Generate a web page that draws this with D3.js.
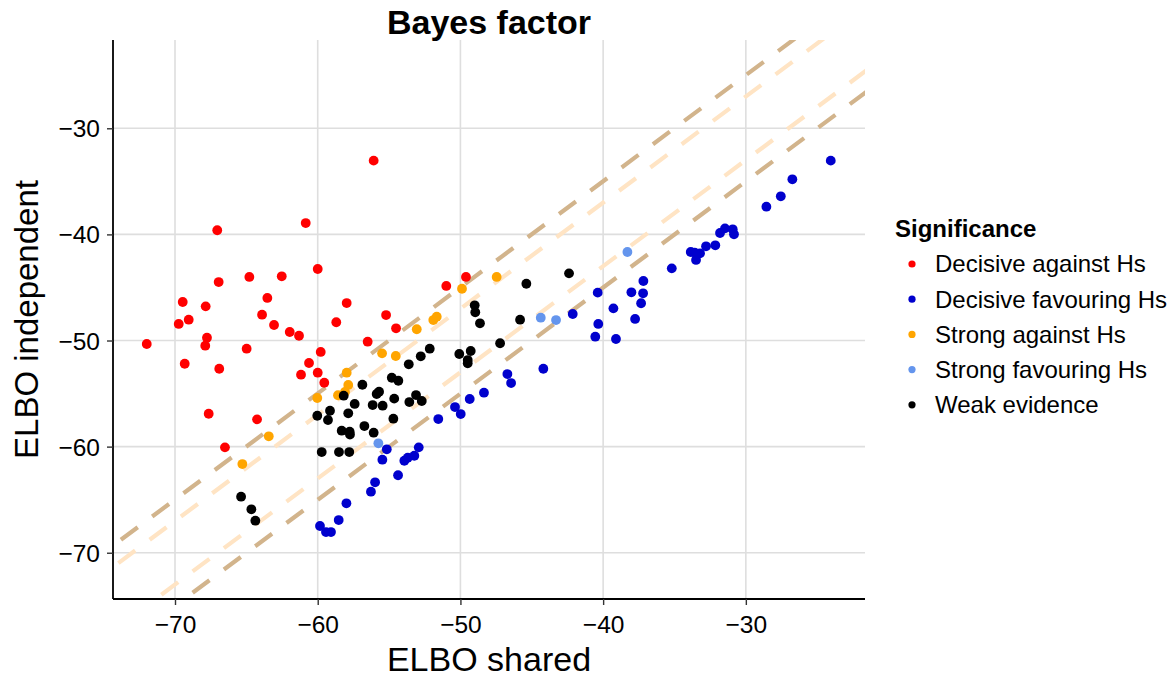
<!DOCTYPE html>
<html><head><meta charset="utf-8">
<script src="https://cdn.jsdelivr.net/npm/d3@7"></script>
<style>body{margin:0;background:#fff}svg{display:block;font-family:"Liberation Sans",Arial,sans-serif}</style>
</head><body><svg id="c" width="1174" height="677"></svg>
<script>
// ---- data (ELBO shared = x, ELBO independent = y) ----
const categories = ["Decisive against Hs","Decisive favouring Hs","Strong against Hs","Strong favouring Hs","Weak evidence"];
const colors = ["#FF0000","#0000CD","#FFA500","#6495ED","#000000"];
const xTicks = [-70,-60,-50,-40,-30];
const yTicks = [-70,-60,-50,-40,-30];
const bfThresholds = [Math.log(150), Math.log(20), -Math.log(20), -Math.log(150)];
const bfColors = ["#D2B48C","#FFE4C4","#FFE4C4","#D2B48C"];

const decisiveAgainstX = [-56.08,-67.04,-60.84,-60.00,-66.94,-64.79,-62.52,-63.53,-69.46,-67.85,-57.97,-69.74,-69.04,-63.90,-63.06,-58.70,-61.96,-61.31,-67.76,-71.98,-56.50,-67.88,-64.98,-69.32,-66.90,-59.79,-60.61,-61.17,-60.00,-59.54,-67.64,-64.25,-66.50,-55.21,-54.51,-50.99,-49.61];
const decisiveAgainstY = [-33.05,-39.61,-38.93,-43.26,-44.49,-44.01,-43.95,-45.99,-46.37,-46.78,-46.47,-48.44,-48.04,-47.57,-48.54,-48.28,-49.20,-49.55,-49.74,-50.33,-50.11,-50.49,-50.77,-52.19,-52.66,-51.08,-52.12,-53.22,-53.03,-53.98,-56.90,-57.43,-60.07,-47.60,-48.85,-44.86,-44.01];

const decisiveFavX = [-55.98,-56.27,-57.99,-58.53,-59.84,-59.42,-59.07,-42.13,-40.38,-40.34,-40.55,-39.28,-55.16,-55.47,-53.93,-53.69,-53.23,-52.92,-54.37,-51.55,-50.38,-49.98,-49.35,-48.35,-46.71,-46.45,-44.19,-24.05,-26.74,-27.55,-28.56,-31.46,-31.81,-30.92,-30.83,-32.14,-32.79,-33.21,-33.86,-33.59,-33.49,-35.19,-37.18,-38.02,-37.20,-37.34,-37.76,-39.10];
const decisiveFavY = [-63.36,-64.25,-65.34,-66.92,-67.48,-68.05,-68.05,-47.50,-45.49,-48.44,-49.64,-46.97,-60.25,-61.23,-61.33,-61.05,-60.86,-60.07,-62.70,-57.40,-56.27,-56.93,-55.51,-54.92,-53.16,-54.01,-52.66,-33.05,-34.81,-36.41,-37.39,-39.43,-39.87,-39.52,-39.99,-41.03,-41.12,-41.78,-41.66,-41.71,-42.41,-43.20,-44.39,-45.46,-45.55,-46.49,-47.97,-49.86];

const strongAgainstX = [-57.97,-57.86,-58.58,-58.09,-60.03,-63.43,-65.28,-49.89,-47.46,-51.66,-51.90,-53.06,-55.49,-54.53];
const strongAgainstY = [-53.03,-54.19,-55.16,-54.85,-55.42,-59.03,-61.64,-45.12,-44.01,-47.76,-48.07,-48.94,-51.21,-51.46];

const strongFavX = [-44.37,-43.30,-55.75,-38.30];
const strongFavY = [-47.85,-48.07,-59.69,-41.66];

const weakX = [-56.87,-58.18,-57.41,-59.14,-60.03,-59.28,-57.86,-56.73,-58.32,-57.76,-57.74,-59.72,-58.51,-57.79,-65.37,-64.65,-64.37,-49.00,-48.96,-48.63,-45.38,-42.39,-45.82,-47.22,-52.15,-52.78,-53.62,-50.08,-49.28,-49.49,-49.49,-54.81,-54.35,-55.70,-55.87,-56.15,-55.45,-54.64,-53.11,-53.58,-52.71,-54.70,-56.08];
const weakY = [-54.17,-55.20,-55.98,-56.62,-57.09,-57.49,-56.86,-58.06,-58.50,-58.60,-58.86,-60.51,-60.51,-60.51,-64.72,-65.91,-66.98,-46.68,-47.34,-48.38,-44.65,-43.67,-48.04,-50.26,-50.77,-51.49,-52.24,-51.27,-50.99,-51.84,-52.15,-53.51,-53.79,-54.83,-55.04,-56.08,-56.14,-55.48,-55.14,-55.80,-55.70,-57.37,-58.69];

const seriesX = [decisiveAgainstX, decisiveFavX, strongAgainstX, strongFavX, weakX];
const seriesY = [decisiveAgainstY, decisiveFavY, strongAgainstY, strongFavY, weakY];

// ---- layout ----
const svg = d3.select("#c");
const L = 113, R = 865, T = 40, B = 599;
const xDom = [-74.345, -21.65], yDom = [-74.36, -21.68];
const x = d3.scaleLinear().domain(xDom).range([L, R]);
const y = d3.scaleLinear().domain(yDom).range([B, T]);

// grid
svg.append("g").selectAll("line").data(xTicks).join("line")
  .attr("x1", d => x(d)).attr("x2", d => x(d)).attr("y1", T).attr("y2", B)
  .attr("stroke", "#DEDEDE").attr("stroke-width", 1.6);
svg.append("g").selectAll("line").data(yTicks).join("line")
  .attr("x1", L).attr("x2", R).attr("y1", d => y(d)).attr("y2", d => y(d))
  .attr("stroke", "#DEDEDE").attr("stroke-width", 1.6);

// clip
svg.append("clipPath").attr("id", "clip").append("rect")
  .attr("x", L).attr("y", T).attr("width", R - L).attr("height", B - T);

// Bayes factor threshold lines y = x + c
const lg = svg.append("g").attr("clip-path", "url(#clip)");
bfThresholds.forEach((c, i) => {
  const x0 = Math.min(xDom[0], yDom[0] - c) - 1, x1 = Math.max(xDom[1], yDom[1] - c) + 1;
  lg.append("line")
    .attr("x1", x(x0)).attr("y1", y(x0 + c)).attr("x2", x(x1)).attr("y2", y(x1 + c))
    .attr("stroke", bfColors[i]).attr("stroke-width", 4.2)
    .attr("stroke-dasharray", "21,18");
});

// points
const pg = svg.append("g");
categories.forEach((cat, k) => {
  const pts = seriesX[k].map((vx, j) => [vx, seriesY[k][j]]);
  pg.append("g").selectAll("circle").data(pts).join("circle")
    .attr("cx", d => x(d[0])).attr("cy", d => y(d[1])).attr("r", 4.9)
    .attr("fill", colors[k]);
});

// axes
const xa = svg.append("g").attr("transform", `translate(0,${B})`)
  .call(d3.axisBottom(x).tickValues(xTicks).tickSize(6).tickPadding(6).tickFormat(d3.format("d")));
const ya = svg.append("g").attr("transform", `translate(${L},0)`)
  .call(d3.axisLeft(y).tickValues(yTicks).tickSize(6).tickPadding(7).tickFormat(d3.format("d")));
[xa, ya].forEach(a => {
  a.select(".domain").attr("stroke", "#000").attr("stroke-width", 1.8);
  a.selectAll(".tick line").attr("stroke", "#333").attr("stroke-width", 1.4);
  a.selectAll(".tick text").attr("fill", "#000").attr("font-size", 24.5)
    .attr("font-family", "Liberation Sans, Arial, sans-serif");
});
xa.select(".domain").attr("d", `M${L},0H${R}`);
ya.select(".domain").attr("d", `M0,${T}V${B}`);
xa.selectAll(".tick text").attr("dy", "0.9em");
ya.selectAll(".tick text").attr("dy", "0.35em");

// titles
svg.append("text").attr("x", 489).attr("y", 34).attr("text-anchor", "middle")
  .attr("font-size", 34).attr("font-weight", "bold").text("Bayes factor");
svg.append("text").attr("x", 489).attr("y", 671).attr("text-anchor", "middle")
  .attr("font-size", 34).text("ELBO shared");
svg.append("text").attr("transform", `translate(38,${(T + B) / 2}) rotate(-90)`)
  .attr("text-anchor", "middle").attr("font-size", 33).text("ELBO independent");

// legend
const leg = svg.append("g");
leg.append("text").attr("x", 895).attr("y", 237).attr("font-size", 24).attr("font-weight", "bold").text("Significance");
categories.forEach((cat, k) => {
  const cy = 264 + k * 35.2;
  leg.append("circle").attr("cx", 912).attr("cy", cy).attr("r", 3.6).attr("fill", colors[k]);
  leg.append("text").attr("x", 935).attr("y", cy).attr("dy", "0.35em").attr("font-size", 24).text(cat);
});
</script></body></html>
